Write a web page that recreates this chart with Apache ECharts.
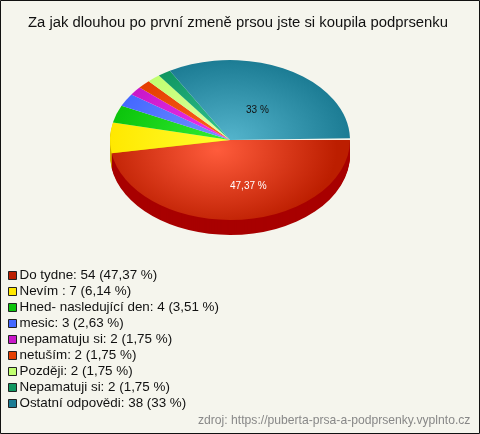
<!DOCTYPE html>
<html><head><meta charset="utf-8">
<style>html,body{margin:0;padding:0;background:#f5f5ed}#c{width:480px;height:434px}</style>
<script src="https://cdn.jsdelivr.net/npm/echarts@6/dist/echarts.min.js"></script>
</head><body><div id="c"></div>
<script>
const titleText = 'Za jak dlouhou po první zmeně prsou jste si koupila podprsenku';
const sourceText = 'zdroj: https://puberta-prsa-a-podprsenky.vyplnto.cz';
const categories = ['Do tydne','Nevím ','Hned- nasledující den','mesic','nepamatuju si','netuším','Později','Nepamatuji si','Ostatní odpovědi'];
const counts = [54,7,4,3,2,2,2,2,38];
const percents = [47.37,6.14,3.51,2.63,1.75,1.75,1.75,1.75,33];
const percentLabels = ['47,37','6,14','3,51','2,63','1,75','1,75','1,75','1,75','33'];
const edgeColors = ['#bc1e00','#ffe800','#0cc40c','#4468ff','#c818c8','#e43e00','#c0ff70','#0f9660','#1c7c94'];
const innerColors = ['#ff5c3c','#ffff30','#34f034','#7494ff','#f034f0','#ff6420','#e4ffa8','#34c494','#54b4cc'];
const sideColors = ['#a80000','#d0b000','#0a9a0a','#3050c0','#a010a0','#b03000','#98c858','#0a7048','#145c70'];

const CX=230, CY=140, RX=120, SQ=80/120, DEPTH=15;
const chart = echarts.init(document.getElementById('c'));
const names = categories.map((c,i)=>`${c}: ${counts[i]} (${percentLabels[i]} %)`);
let acc = 0;
const starts = percents.map(p=>{const s=acc; acc+=p; return s;});
const rad = p => p/100*Math.PI*2;

const series = names.map((name,i)=>({
  type:'custom', name, coordinateSystem:'none',
  data:[percents[i]],
  itemStyle:{color:edgeColors[i]},
  silent:true,
  renderItem(params,api){
    const a0=rad(starts[i]), a1=rad(starts[i]+api.value(0));
    const gx = i===0?-13:0, gy = i===0?15:0;
    const children=[];
    if(a0<Math.PI){
      for(let d=DEPTH;d>=1;d--){
        children.push({type:'sector',x:CX,y:CY+d,scaleY:SQ,z2:i===0?2:1,
          shape:{cx:0,cy:0,r:RX,r0:0,startAngle:a0,endAngle:Math.min(a1,Math.PI*1.1),clockwise:true},
          style:{fill:sideColors[i]}});
      }
    }
    children.push({type:'sector',x:CX,y:CY,scaleY:SQ,z2:10,
      shape:{cx:0,cy:0,r:RX,r0:0,startAngle:a0,endAngle:a1,clockwise:true},
      style:{fill:new echarts.graphic.RadialGradient(gx,gy,RX,[
        {offset:0,color:innerColors[i]},{offset:1,color:edgeColors[i]}],true)}});
    return {type:'group',children};
  }
}));

chart.setOption({
  animation:false,
  backgroundColor:'#f5f5ed',
  title:{text:titleText,left:23,top:10,padding:5,textStyle:{fontFamily:'Liberation Sans',fontSize:14.85,fontWeight:'normal',color:'#111'}},
  legend:{orient:'vertical',left:8,top:269,selectedMode:false,icon:'rect',itemWidth:8,itemHeight:8,itemGap:3,padding:0,
    itemStyle:{borderColor:'#222',borderWidth:1},
    textStyle:{fontFamily:'Liberation Sans',fontSize:13.4,color:'#111',padding:[0,0,0,-2],lineHeight:13,height:13},
    data:names},
  graphic:[
    {type:'rect',z:100,silent:true,shape:{x:.5,y:.5,width:479,height:433},style:{fill:'none',stroke:'#111',lineWidth:1}},
    {type:'text',z:100,silent:true,x:230,y:181,style:{text:percentLabels[0]+' %',fill:'#fff',fontFamily:'Liberation Sans',fontSize:10}},
    {type:'text',z:100,silent:true,x:246,y:105,style:{text:percentLabels[8]+' %',fill:'#111',fontFamily:'Liberation Sans',fontSize:10}},
    {type:'text',z:100,silent:true,x:198,y:415,style:{text:sourceText,fill:'#888',fontFamily:'Liberation Sans',fontSize:12.15}}
  ],
  series
});
</script></body></html>
